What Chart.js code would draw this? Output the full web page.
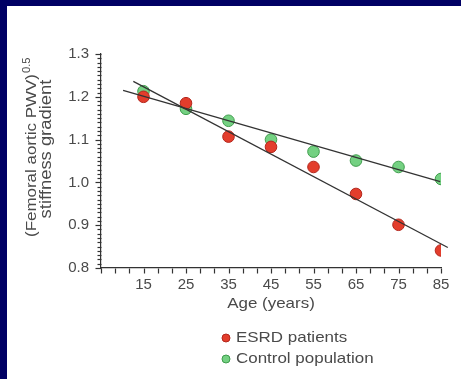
<!DOCTYPE html>
<html><head><meta charset="utf-8">
<script src="https://cdn.jsdelivr.net/npm/chart.js@4"></script>
<style>
html,body{margin:0;padding:0;background:#000064;width:461px;height:379px;overflow:hidden}
#panel{position:absolute;left:7px;top:6px;width:454px;height:373px;background:#fff}
canvas{display:block}
</style></head><body>
<div id="panel"><canvas id="c" width="454" height="373"></canvas></div>
<script>
// ---- data ----
const ages = [15, 25, 35, 45, 55, 65, 75, 85];
const esrdValues = [1.200, 1.185, 1.107, 1.083, 1.036, 0.973, 0.901, 0.841];
const controlValues = [1.213, 1.172, 1.144, 1.100, 1.072, 1.051, 1.036, 1.008];
const esrdFitX = [12.6, 86.6];
const esrdFitY = [1.236, 0.848];
const controlFitX = [10.2, 84.8];
const controlFitY = [1.215, 1.002];
const xTickLabels = [15, 25, 35, 45, 55, 65, 75, 85];
const yTickLabels = [0.8, 0.9, 1.0, 1.1, 1.2, 1.3];
const seriesNames = ['ESRD patients', 'Control population'];
const yTitleMain = '(Femoral aortic PWV)';
const yTitleSup = '0.5';
const yTitleLine2 = 'stiffness gradient';
const xTitle = 'Age (years)';

// ---- styles ----
const FONT = '"Liberation Sans", Arial, Helvetica, sans-serif';
const TXT = '#4a4a4a';
const AX = '#333333';
const RED = '#e33d2c', RED_B = '#b3261c';
const GREEN = '#74d182', GREEN_B = '#3f9c4c';
const SX = 1.13;

const pts = (xs, ys) => xs.map((x, i) => ({x: x, y: ys[i]}));

function stretchedText(ctx, text, x, y, opts) {
  ctx.save();
  ctx.translate(x, y);
  if (opts.rot) ctx.rotate(opts.rot);
  ctx.scale(opts.sx || 1, 1);
  ctx.font = opts.font;
  ctx.fillStyle = opts.color || TXT;
  ctx.textAlign = opts.align || 'left';
  ctx.textBaseline = opts.baseline || 'middle';
  ctx.fillText(text, 0, 0);
  const w = ctx.measureText(text).width;
  ctx.restore();
  return w * (opts.sx || 1);
}

function tick(ctx, x1, y1, x2, y2) {
  ctx.beginPath();
  ctx.moveTo(x1, y1);
  ctx.lineTo(x2, y2);
  ctx.stroke();
}

const decor = {
  id: 'decor',
  afterDraw(chart) {
    const ctx = chart.ctx, xs = chart.scales.x, ys = chart.scales.y, ca = chart.chartArea;
    ctx.save();
    ctx.globalAlpha = 1;
    ctx.setLineDash([]);
    ctx.strokeStyle = AX;
    ctx.lineWidth = 1.2;
    const axX = Math.round(ca.left) + 0.5;
    const axY = Math.round(ca.bottom) + 0.5;
    // y ticks: major every 0.1, minor every 0.01
    const lo = Math.round(yTickLabels[0] * 100), hi = Math.round(yTickLabels[yTickLabels.length - 1] * 100);
    for (let i = lo; i <= hi; i++) {
      const py = Math.round(ys.getPixelForValue(i / 100)) + 0.5;
      const len = (i % 10 === 0) ? 6 : 4;
      tick(ctx, axX - len, py, axX, py);
    }
    // x ticks: every 10/3 years from axis min
    const step = (xTickLabels[1] - xTickLabels[0]) / 3;
    for (let k = 0; k <= 24; k++) {
      const v = xs.min + k * step;
      const px = Math.round(xs.getPixelForValue(v)) + 0.5;
      tick(ctx, px, axY, px, axY + 5);
    }
    ctx.restore();

    // x title
    stretchedText(ctx, xTitle, (ca.left + ca.right) / 2, 298, {font: '15px ' + FONT, sx: SX, align: 'center'});

    // y title (rotated)
    const w1 = stretchedText(ctx, yTitleMain, 25, 231, {font: '15px ' + FONT, sx: SX, rot: -Math.PI / 2});
    stretchedText(ctx, yTitleSup, 20, 231 - w1 - 1, {font: '10px ' + FONT, sx: SX, rot: -Math.PI / 2});
    stretchedText(ctx, yTitleLine2, 40, 143, {font: '16px ' + FONT, sx: 1.15, rot: -Math.PI / 2, align: 'center'});

    // legend
    const items = [[RED, RED_B], [GREEN, GREEN_B]];
    items.forEach((c, i) => {
      const cy = 332 + i * 21;
      ctx.save();
      ctx.beginPath(); ctx.arc(219, cy, 4, 0, Math.PI * 2);
      ctx.fillStyle = c[0]; ctx.fill();
      ctx.lineWidth = 1; ctx.strokeStyle = c[1]; ctx.stroke();
      ctx.restore();
      stretchedText(ctx, seriesNames[i], 229, cy, {font: '15px ' + FONT, sx: SX});
    });
  }
};

new Chart(document.getElementById('c'), {
  type: 'scatter',
  data: {
    datasets: [
      {label: seriesNames[0] + ' fit', type: 'line', data: pts(esrdFitX, esrdFitY), borderColor: AX, borderWidth: 1.3, pointRadius: 0, fill: false, clip: false, order: 0},
      {label: seriesNames[1] + ' fit', type: 'line', data: pts(controlFitX, controlFitY), borderColor: AX, borderWidth: 1.3, pointRadius: 0, fill: false, clip: false, order: 0},
      {label: seriesNames[0], data: pts(ages, esrdValues), backgroundColor: RED, borderColor: RED_B, borderWidth: 1, pointRadius: 5.8, order: 1},
      {label: seriesNames[1], data: pts(ages, controlValues), backgroundColor: GREEN, borderColor: GREEN_B, borderWidth: 1, pointRadius: 5.8, order: 2}
    ]
  },
  options: {
    responsive: false,
    animation: false,
    events: [],
    layout: {padding: {left: 0, right: 20, top: 48, bottom: 0}},
    plugins: {legend: {display: false}, tooltip: {enabled: false}},
    scales: {
      x: {
        type: 'linear', min: 5, max: 85,
        grid: {display: false, drawTicks: false},
        border: {display: true, color: AX, width: 1.2},
        afterBuildTicks: (s) => { s.ticks = xTickLabels.map(v => ({value: v})); },
        afterFit: (s) => { s.height = 111; },
        ticks: {color: TXT, font: {family: FONT, size: 15}, padding: 8, maxRotation: 0, autoSkip: false,
                callback: (v) => String(v)}
      },
      y: {
        min: yTickLabels[0], max: yTickLabels[yTickLabels.length - 1],
        grid: {display: false, drawTicks: false},
        border: {display: true, color: AX, width: 1.2},
        afterBuildTicks: (s) => { s.ticks = yTickLabels.map(v => ({value: v})); },
        afterFit: (s) => { s.width = 94; },
        ticks: {color: TXT, font: {family: FONT, size: 15}, padding: 12,
                callback: (v) => Number(v).toFixed(1)}
      }
    }
  },
  plugins: [decor]
});
</script>
</body></html>
